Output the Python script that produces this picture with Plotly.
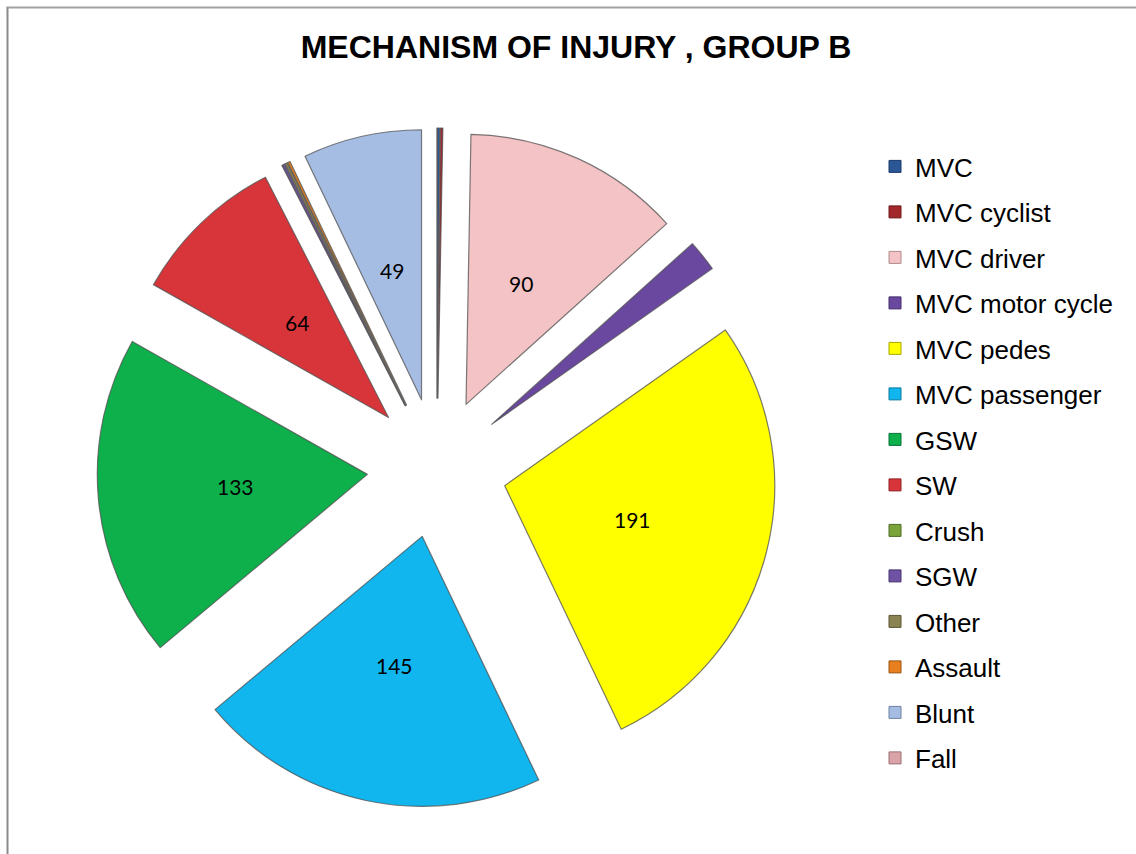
import math
import plotly.graph_objects as go

# ---- data ----
categories = ["MVC", "MVC cyclist", "MVC driver", "MVC motor cycle", "MVC pedes",
              "MVC passenger", "GSW", "SW", "Crush", "SGW", "Other", "Assault",
              "Blunt", "Fall"]
counts = [1, 1, 90, 13, 191, 145, 133, 64, 0, 1, 1, 1, 49, 0]
slice_colors = ["#2B5797", "#A3282B", "#F4C3C5", "#6A48A0", "#FFFF00", "#12B6EE",
                "#0DB04B", "#D8353A", "#7AA33A", "#6F52A4", "#8A8352", "#E8801F",
                "#A6BDE3", "#D9A3A8"]
legend_edge = ["#1B3A6B", "#6E1A1C", "#B08A8C", "#432E6A", "#A8A800", "#0A7AA0",
               "#07733A", "#8E2226", "#4F6C24", "#47356C", "#5A5535", "#9A5212",
               "#6F82A3", "#9A6E72"]
label_min = 20          # only slices this large get a data label
pull = 0.259            # explosion, fraction of slice radius
label_frac = 0.49       # label distance from slice apex, fraction of slice radius

W, H = 1136, 854
dom_x = [97 / W, 777 / W]
dom_y = [1 - 808 / H, 1 - 128 / H]

fig = go.Figure()

fig.add_trace(go.Pie(
    labels=categories,
    values=counts,
    textinfo="none",
    sort=False,
    direction="clockwise",
    rotation=0,
    pull=pull,
    marker=dict(colors=slice_colors, line=dict(color="rgba(80,80,80,0.75)", width=1.2)),
    domain=dict(x=dom_x, y=dom_y),
    showlegend=False,
    hoverinfo="label+value",
))

for name, col, edge in zip(categories, slice_colors, legend_edge):
    fig.add_trace(go.Scatter(
        x=[None], y=[None], mode="markers", name=name, legendgroup=name,
        marker=dict(symbol="square", size=12, color=col, line=dict(color=edge, width=1)),
        showlegend=True, hoverinfo="skip",
    ))

# data labels: placed on an axis system that spans the pie's domain (unit = half the box)
total = sum(counts)
r_lab = (pull + label_frac) / (1 + pull)
annotations = []
cum = 0.0
for v in counts:
    mid = (cum + v / 2) / total * 2 * math.pi
    cum += v
    if v >= label_min:
        annotations.append(dict(
            x=r_lab * math.sin(mid), y=r_lab * math.cos(mid), xref="x", yref="y",
            text=str(v), showarrow=False,
            font=dict(family="Lato, Liberation Sans, Arial", size=21, color="#000000"),
        ))

fig.update_layout(
    width=W, height=H,
    margin=dict(l=0, r=0, t=0, b=0),
    paper_bgcolor="white", plot_bgcolor="rgba(0,0,0,0)",
    title=dict(text="<b>MECHANISM OF INJURY , GROUP B</b>",
               x=576 / W, xanchor="center", y=1 - 47 / H, yanchor="middle",
               font=dict(family="Liberation Sans, Arial", size=32, color="#000000")),
    xaxis=dict(visible=False, domain=dom_x, range=[-1, 1], fixedrange=True),
    yaxis=dict(visible=False, domain=dom_y, range=[-1, 1], fixedrange=True),
    annotations=annotations,
    legend=dict(x=875 / W, xanchor="left", y=1 - 143 / H, yanchor="top",
                font=dict(family="Liberation Sans, Arial", size=26, color="#000000"),
                tracegroupgap=8.7, bgcolor="rgba(0,0,0,0)", borderwidth=0),
    shapes=[
        dict(type="line", xref="paper", yref="paper", x0=7.5 / W, x1=7.5 / W,
             y0=0, y1=1 - 7 / H, line=dict(color="#8A8A8A", width=2)),
        dict(type="line", xref="paper", yref="paper", x0=6.5 / W, x1=1,
             y0=1 - 7.5 / H, y1=1 - 7.5 / H, line=dict(color="#A0A0A0", width=2)),
    ],
)

fig.write_html("out.html", config={"displayModeBar": False},
               post_script="document.body.style.margin='0';document.body.style.overflow='hidden';")
